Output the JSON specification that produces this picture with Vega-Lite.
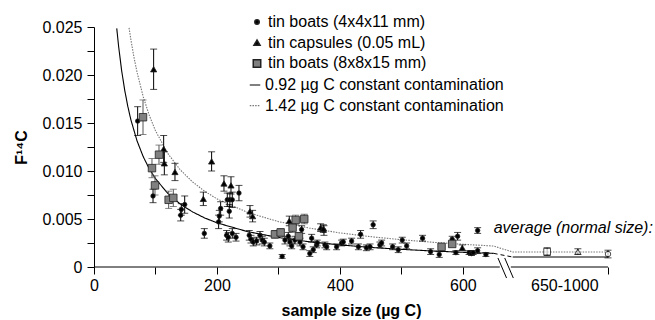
{
  "$schema": "https://vega.github.io/schema/vega-lite/v6.json",
  "width": 514,
  "height": 240,
  "autosize": {"type": "none"},
  "padding": {"left": 94, "top": 27, "right": 47, "bottom": 53},
  "config": {
    "view": {"stroke": null},
    "font": "Liberation Sans",
    "axis": {"labelFont": "Liberation Sans", "titleFont": "Liberation Sans", "labelColor": "black", "titleColor": "black", "domainColor": "black", "tickColor": "black", "grid": false}
  },
  "datasets": {
    "pts": [
      {"type": "c", "x": 71, "y": 0.0152, "e": 0.0015},
      {"type": "c", "x": 96, "y": 0.0074, "e": 0.0007},
      {"type": "c", "x": 141, "y": 0.0054, "e": 0.0006},
      {"type": "c", "x": 142, "y": 0.0060, "e": 0.0006},
      {"type": "c", "x": 147.5, "y": 0.0065, "e": 0.0009},
      {"type": "c", "x": 179.4, "y": 0.0035, "e": 0.0005},
      {"type": "c", "x": 202.7, "y": 0.0047, "e": 0.0007},
      {"type": "c", "x": 203.8, "y": 0.0053, "e": 0.0006},
      {"type": "c", "x": 206, "y": 0.0061, "e": 0.0007},
      {"type": "c", "x": 215.7, "y": 0.0033, "e": 0.0005},
      {"type": "c", "x": 218.4, "y": 0.0031, "e": 0.0005},
      {"type": "c", "x": 220, "y": 0.0058, "e": 0.0007},
      {"type": "c", "x": 216.8, "y": 0.0070, "e": 0.0007},
      {"type": "c", "x": 221, "y": 0.0070, "e": 0.0007},
      {"type": "c", "x": 224.9, "y": 0.0070, "e": 0.0008},
      {"type": "c", "x": 224.9, "y": 0.0035, "e": 0.0005},
      {"type": "c", "x": 231, "y": 0.0031, "e": 0.0004},
      {"type": "c", "x": 235.8, "y": 0.0077, "e": 0.0008},
      {"type": "c", "x": 252.5, "y": 0.0033, "e": 0.0005},
      {"type": "c", "x": 255.3, "y": 0.0029, "e": 0.0004},
      {"type": "c", "x": 259, "y": 0.0026, "e": 0.0004},
      {"type": "c", "x": 264.5, "y": 0.0027, "e": 0.0004},
      {"type": "c", "x": 270, "y": 0.0033, "e": 0.0004},
      {"type": "c", "x": 273.7, "y": 0.0028, "e": 0.0004},
      {"type": "c", "x": 277, "y": 0.0026, "e": 0.0004},
      {"type": "c", "x": 286, "y": 0.0022, "e": 0.0003},
      {"type": "c", "x": 306, "y": 0.0011, "e": 0.0002},
      {"type": "c", "x": 310.6, "y": 0.0028, "e": 0.0004},
      {"type": "c", "x": 316, "y": 0.0032, "e": 0.0004},
      {"type": "c", "x": 318.7, "y": 0.0026, "e": 0.0004},
      {"type": "c", "x": 321.5, "y": 0.0022, "e": 0.0003},
      {"type": "c", "x": 326.8, "y": 0.0028, "e": 0.0004},
      {"type": "c", "x": 335, "y": 0.0026, "e": 0.0004},
      {"type": "c", "x": 337.7, "y": 0.0039, "e": 0.0004},
      {"type": "c", "x": 340, "y": 0.0021, "e": 0.0003},
      {"type": "c", "x": 351, "y": 0.0014, "e": 0.0003},
      {"type": "c", "x": 354, "y": 0.0030, "e": 0.0004},
      {"type": "c", "x": 356.6, "y": 0.0018, "e": 0.0003},
      {"type": "c", "x": 362, "y": 0.0023, "e": 0.0003},
      {"type": "c", "x": 363, "y": 0.0025, "e": 0.0003},
      {"type": "c", "x": 374, "y": 0.0038, "e": 0.0005},
      {"type": "c", "x": 375.6, "y": 0.0023, "e": 0.0003},
      {"type": "c", "x": 378.4, "y": 0.0021, "e": 0.0003},
      {"type": "c", "x": 394.6, "y": 0.0021, "e": 0.0003},
      {"type": "c", "x": 402.7, "y": 0.0025, "e": 0.0003},
      {"type": "c", "x": 405.4, "y": 0.0026, "e": 0.0003},
      {"type": "c", "x": 419, "y": 0.0027, "e": 0.0003},
      {"type": "c", "x": 430, "y": 0.0021, "e": 0.0003},
      {"type": "c", "x": 433.6, "y": 0.0034, "e": 0.0004},
      {"type": "c", "x": 443, "y": 0.0020, "e": 0.0003},
      {"type": "c", "x": 449, "y": 0.0021, "e": 0.0003},
      {"type": "c", "x": 454, "y": 0.0044, "e": 0.0004},
      {"type": "c", "x": 465, "y": 0.0023, "e": 0.0003},
      {"type": "c", "x": 467.8, "y": 0.0025, "e": 0.0003},
      {"type": "c", "x": 485.7, "y": 0.0021, "e": 0.0003},
      {"type": "c", "x": 494.8, "y": 0.0018, "e": 0.0003},
      {"type": "c", "x": 501.3, "y": 0.0028, "e": 0.0003},
      {"type": "c", "x": 508.5, "y": 0.0022, "e": 0.0003},
      {"type": "c", "x": 534.4, "y": 0.0030, "e": 0.0003},
      {"type": "c", "x": 547.5, "y": 0.0016, "e": 0.0003},
      {"type": "c", "x": 561.5, "y": 0.0013, "e": 0.0003},
      {"type": "c", "x": 582.6, "y": 0.0029, "e": 0.0003},
      {"type": "c", "x": 588.6, "y": 0.0015, "e": 0.0002},
      {"type": "c", "x": 591.4, "y": 0.0032, "e": 0.0004},
      {"type": "c", "x": 610, "y": 0.0015, "e": 0.0002},
      {"type": "c", "x": 614, "y": 0.0014, "e": 0.0002},
      {"type": "c", "x": 616.7, "y": 0.0015, "e": 0.0002},
      {"type": "c", "x": 624, "y": 0.0038, "e": 0.0003},
      {"type": "c", "x": 624, "y": 0.0017, "e": 0.0003},
      {"type": "c", "x": 637.4, "y": 0.0013, "e": 0.0002},
      {"type": "t", "x": 97, "y": 0.0206, "e": 0.0021},
      {"type": "t", "x": 113.3, "y": 0.0123, "e": 0.0014},
      {"type": "t", "x": 114.4, "y": 0.0108, "e": 0.0012},
      {"type": "t", "x": 131.7, "y": 0.0099, "e": 0.0009},
      {"type": "t", "x": 177.8, "y": 0.0071, "e": 0.0007},
      {"type": "t", "x": 191.3, "y": 0.0110, "e": 0.0010},
      {"type": "t", "x": 211.4, "y": 0.0087, "e": 0.0008},
      {"type": "t", "x": 222.8, "y": 0.0085, "e": 0.0009},
      {"type": "t", "x": 253.7, "y": 0.0058, "e": 0.0006},
      {"type": "t", "x": 258, "y": 0.0053, "e": 0.0006},
      {"type": "t", "x": 317.6, "y": 0.0048, "e": 0.0005},
      {"type": "t", "x": 368.6, "y": 0.0041, "e": 0.0004},
      {"type": "t", "x": 373, "y": 0.0040, "e": 0.0004},
      {"type": "t", "x": 599, "y": 0.0020, "e": 0.0003},
      {"type": "s", "x": 79.7, "y": 0.0156, "e": 0.0018},
      {"type": "s", "x": 94.3, "y": 0.0103, "e": 0.0010},
      {"type": "s", "x": 99.2, "y": 0.0085, "e": 0.0010},
      {"type": "s", "x": 105.7, "y": 0.0117, "e": 0.0010},
      {"type": "s", "x": 121.4, "y": 0.0070, "e": 0.0009},
      {"type": "s", "x": 129, "y": 0.0072, "e": 0.0009},
      {"type": "s", "x": 294.3, "y": 0.0034, "e": 0.0004},
      {"type": "s", "x": 303.6, "y": 0.0036, "e": 0.0004},
      {"type": "s", "x": 323, "y": 0.0041, "e": 0.0005},
      {"type": "s", "x": 328, "y": 0.0049, "e": 0.0005},
      {"type": "s", "x": 333.3, "y": 0.0032, "e": 0.0004},
      {"type": "s", "x": 342, "y": 0.0050, "e": 0.0005},
      {"type": "s", "x": 565.3, "y": 0.0021, "e": 0.0003},
      {"type": "s", "x": 582.6, "y": 0.0024, "e": 0.0003}
    ],
    "avg": [
      {"type": "s", "x": 737, "y": 0.0016, "e": 0.0004},
      {"type": "t", "x": 787, "y": 0.0016, "e": 0.0003},
      {"type": "c", "x": 836, "y": 0.00135, "e": 0.0004}
    ],
    "curves": [
      {"curve": "a", "x": 37, "y": 0.02486},
      {"curve": "a", "x": 40, "y": 0.023},
      {"curve": "a", "x": 45, "y": 0.02044},
      {"curve": "a", "x": 50, "y": 0.0184},
      {"curve": "a", "x": 55, "y": 0.01673},
      {"curve": "a", "x": 60, "y": 0.01533},
      {"curve": "a", "x": 70, "y": 0.01314},
      {"curve": "a", "x": 80, "y": 0.0115},
      {"curve": "a", "x": 90, "y": 0.01022},
      {"curve": "a", "x": 100, "y": 0.0092},
      {"curve": "a", "x": 120, "y": 0.00767},
      {"curve": "a", "x": 140, "y": 0.00657},
      {"curve": "a", "x": 160, "y": 0.00575},
      {"curve": "a", "x": 180, "y": 0.00511},
      {"curve": "a", "x": 200, "y": 0.0046},
      {"curve": "a", "x": 250, "y": 0.00368},
      {"curve": "a", "x": 300, "y": 0.00307},
      {"curve": "a", "x": 350, "y": 0.00263},
      {"curve": "a", "x": 400, "y": 0.0023},
      {"curve": "a", "x": 450, "y": 0.00204},
      {"curve": "a", "x": 500, "y": 0.00184},
      {"curve": "a", "x": 550, "y": 0.00167},
      {"curve": "a", "x": 600, "y": 0.00153},
      {"curve": "a", "x": 650, "y": 0.00142},
      {"curve": "a2", "x": 681, "y": 0.00104},
      {"curve": "a2", "x": 836, "y": 0.00104},
      {"curve": "ag", "x": 650, "y": 0.00142},
      {"curve": "ag", "x": 681, "y": 0.00104},
      {"curve": "b", "x": 57, "y": 0.02491},
      {"curve": "b", "x": 60, "y": 0.02367},
      {"curve": "b", "x": 65, "y": 0.02185},
      {"curve": "b", "x": 70, "y": 0.02029},
      {"curve": "b", "x": 80, "y": 0.01775},
      {"curve": "b", "x": 90, "y": 0.01578},
      {"curve": "b", "x": 100, "y": 0.0142},
      {"curve": "b", "x": 120, "y": 0.01183},
      {"curve": "b", "x": 140, "y": 0.01014},
      {"curve": "b", "x": 160, "y": 0.00888},
      {"curve": "b", "x": 180, "y": 0.00789},
      {"curve": "b", "x": 200, "y": 0.0071},
      {"curve": "b", "x": 250, "y": 0.00568},
      {"curve": "b", "x": 300, "y": 0.00473},
      {"curve": "b", "x": 350, "y": 0.00406},
      {"curve": "b", "x": 400, "y": 0.00355},
      {"curve": "b", "x": 450, "y": 0.00316},
      {"curve": "b", "x": 500, "y": 0.00284},
      {"curve": "b", "x": 550, "y": 0.00258},
      {"curve": "b", "x": 600, "y": 0.00237},
      {"curve": "b", "x": 650, "y": 0.00218},
      {"curve": "b", "x": 681, "y": 0.00156},
      {"curve": "b", "x": 836, "y": 0.00156}
    ],
    "axisline": [
      {"x": 0, "x2": 660, "y": 0, "y2": 0},
      {"x": 678, "x2": 836, "y": 0, "y2": 0},
      {"x": 657, "x2": 671, "y": 0.00094, "y2": -0.00115},
      {"x": 668, "x2": 682, "y": 0.00094, "y2": -0.00115}
    ],
    "notes": [
      {"x": 909, "y": 0.00406, "label": "average (normal size):"}
    ]
  },
  "encoding": {
    "x": {
      "field": "x", "type": "quantitative",
      "scale": {"domain": [0, 836], "nice": false, "zero": false},
      "axis": {
        "title": "sample size (µg C)",
        "titleFontSize": 16, "titleFontWeight": "bold", "titlePadding": 9,
        "values": [0, 100, 200, 300, 400, 500, 600, 765, 836],
        "labelExpr": "datum.value == 765 ? '650-1000' : ((datum.value <= 600 && datum.value % 200 == 0) ? datum.label : '')",
        "labelFontSize": 16, "labelPadding": 3, "labelFlush": false, "labelOverlap": false,
        "tickSize": 7, "tickWidth": 1,
        "tickOpacity": {"condition": {"test": "datum.value == 765", "value": 0}, "value": 1},
        "domain": false
      }
    },
    "y": {
      "field": "y", "type": "quantitative",
      "scale": {"domain": [0, 0.025], "nice": false, "zero": false},
      "axis": {
        "title": "F¹⁴C",
        "titleFontSize": 16, "titleFontWeight": "bold", "titlePadding": 12,
        "values": [0, 0.0025, 0.005, 0.0075, 0.01, 0.0125, 0.015, 0.0175, 0.02, 0.0225, 0.025],
        "labelExpr": "datum.value == 0 ? '0' : (round(datum.value * 10000) % 50 == 0 ? format(datum.value, '.3f') : '')",
        "labelFontSize": 16, "labelPadding": 5, "labelFlush": false, "labelOverlap": false,
        "tickSize": 7, "tickWidth": 1, "domainWidth": 1
      }
    }
  },
  "layer": [
    {
      "data": {"name": "axisline"},
      "mark": {"type": "rule", "color": "black", "strokeWidth": 1, "clip": false},
      "encoding": {"x2": {"field": "x2"}, "y2": {"field": "y2"}}
    },
    {
      "data": {"name": "curves"},
      "transform": [{"filter": "datum.curve == 'a' || datum.curve == 'b'"}],
      "mark": {"type": "line", "strokeWidth": 1.1},
      "encoding": {
        "stroke": {
          "field": "curve", "type": "nominal",
          "scale": {"domain": ["a", "b"], "range": ["black", "#777777"]},
          "legend": {
            "orient": "none", "legendX": 153, "legendY": 50, "title": null, "padding": 0,
            "labelFont": "Liberation Sans", "labelFontSize": 16, "labelColor": "black", "labelOffset": 2, "labelLimit": 400,
            "rowPadding": 4.7, "symbolType": "stroke", "symbolSize": 110, "symbolStrokeWidth": 1.2,
            "labelExpr": "datum.value == 'a' ? '0.92 µg C constant contamination' : '1.42 µg C constant contamination'"
          }
        },
        "strokeDash": {
          "field": "curve", "type": "nominal",
          "scale": {"domain": ["a", "b"], "range": [[1, 0], [1.5, 1.2]]},
          "legend": {
            "orient": "none", "legendX": 153, "legendY": 50, "title": null, "padding": 0,
            "labelFont": "Liberation Sans", "labelFontSize": 16, "labelColor": "black", "labelOffset": 2, "labelLimit": 400,
            "rowPadding": 4.7, "symbolType": "stroke", "symbolSize": 110, "symbolStrokeWidth": 1.2,
            "labelExpr": "datum.value == 'a' ? '0.92 µg C constant contamination' : '1.42 µg C constant contamination'"
          }
        }
      }
    },
    {
      "data": {"name": "curves"},
      "transform": [{"filter": "datum.curve == 'a2'"}],
      "mark": {"type": "line", "color": "black", "strokeWidth": 1.1},
      "encoding": {}
    },
    {
      "data": {"name": "curves"},
      "transform": [{"filter": "datum.curve == 'ag'"}],
      "mark": {"type": "line", "color": "black", "strokeWidth": 1, "strokeDash": [4, 3]},
      "encoding": {}
    },
    {
      "data": {"name": "pts"},
      "transform": [{"filter": "datum.type != 's'"}],
      "mark": {"type": "errorbar", "color": "black", "ticks": true, "size": 7, "thickness": 1},
      "encoding": {"yError": {"field": "e"}}
    },
    {
      "data": {"name": "pts"},
      "transform": [{"filter": "datum.type == 's'"}],
      "mark": {"type": "errorbar", "color": "#555555", "ticks": true, "size": 7, "thickness": 1},
      "encoding": {"yError": {"field": "e"}}
    },
    {
      "data": {"name": "avg"},
      "mark": {"type": "errorbar", "color": "black", "ticks": true, "size": 7, "thickness": 1, "clip": false},
      "encoding": {"yError": {"field": "e"}}
    },
    {
      "data": {"name": "pts"},
      "mark": {"type": "point", "filled": true, "stroke": "#222222", "strokeWidth": 0.8, "opacity": 1},
      "encoding": {
        "shape": {
          "field": "type", "type": "nominal",
          "scale": {"domain": ["c", "t", "s"], "range": ["circle", "triangle-up", "square"]},
          "legend": {
            "orient": "none", "legendX": 155, "legendY": -13, "title": null, "padding": 0,
            "labelFont": "Liberation Sans", "labelFontSize": 16, "labelColor": "black", "labelOffset": 3, "labelLimit": 400,
            "rowPadding": 4.7,
            "labelExpr": "datum.value == 'c' ? 'tin boats (4x4x11 mm)' : datum.value == 't' ? 'tin capsules (0.05 mL)' : 'tin boats (8x8x15 mm)'"
          }
        },
        "fill": {
          "field": "type", "type": "nominal",
          "scale": {"domain": ["c", "t", "s"], "range": ["black", "black", "#808080"]}
        },
        "size": {
          "field": "type", "type": "nominal",
          "scale": {"domain": ["c", "t", "s"], "range": [20, 56]}
        }
      }
    },
    {
      "data": {"name": "avg"},
      "transform": [{"filter": "datum.type == 's'"}],
      "mark": {"type": "point", "shape": "square", "filled": true, "fill": "white", "stroke": "black", "strokeWidth": 1, "size": 45, "clip": false},
      "encoding": {}
    },
    {
      "data": {"name": "avg"},
      "transform": [{"filter": "datum.type == 't'"}],
      "mark": {"type": "point", "shape": "triangle-up", "filled": true, "fill": "white", "stroke": "black", "strokeWidth": 1, "size": 35, "clip": false},
      "encoding": {}
    },
    {
      "data": {"name": "avg"},
      "transform": [{"filter": "datum.type == 'c'"}],
      "mark": {"type": "point", "shape": "circle", "filled": true, "fill": "white", "stroke": "black", "strokeWidth": 1, "size": 30, "clip": false},
      "encoding": {}
    },
    {
      "data": {"name": "notes"},
      "mark": {"type": "text", "align": "right", "baseline": "middle", "fontStyle": "italic", "fontSize": 16, "font": "Liberation Sans", "color": "black", "clip": false},
      "encoding": {"text": {"field": "label"}}
    }
  ]
}
